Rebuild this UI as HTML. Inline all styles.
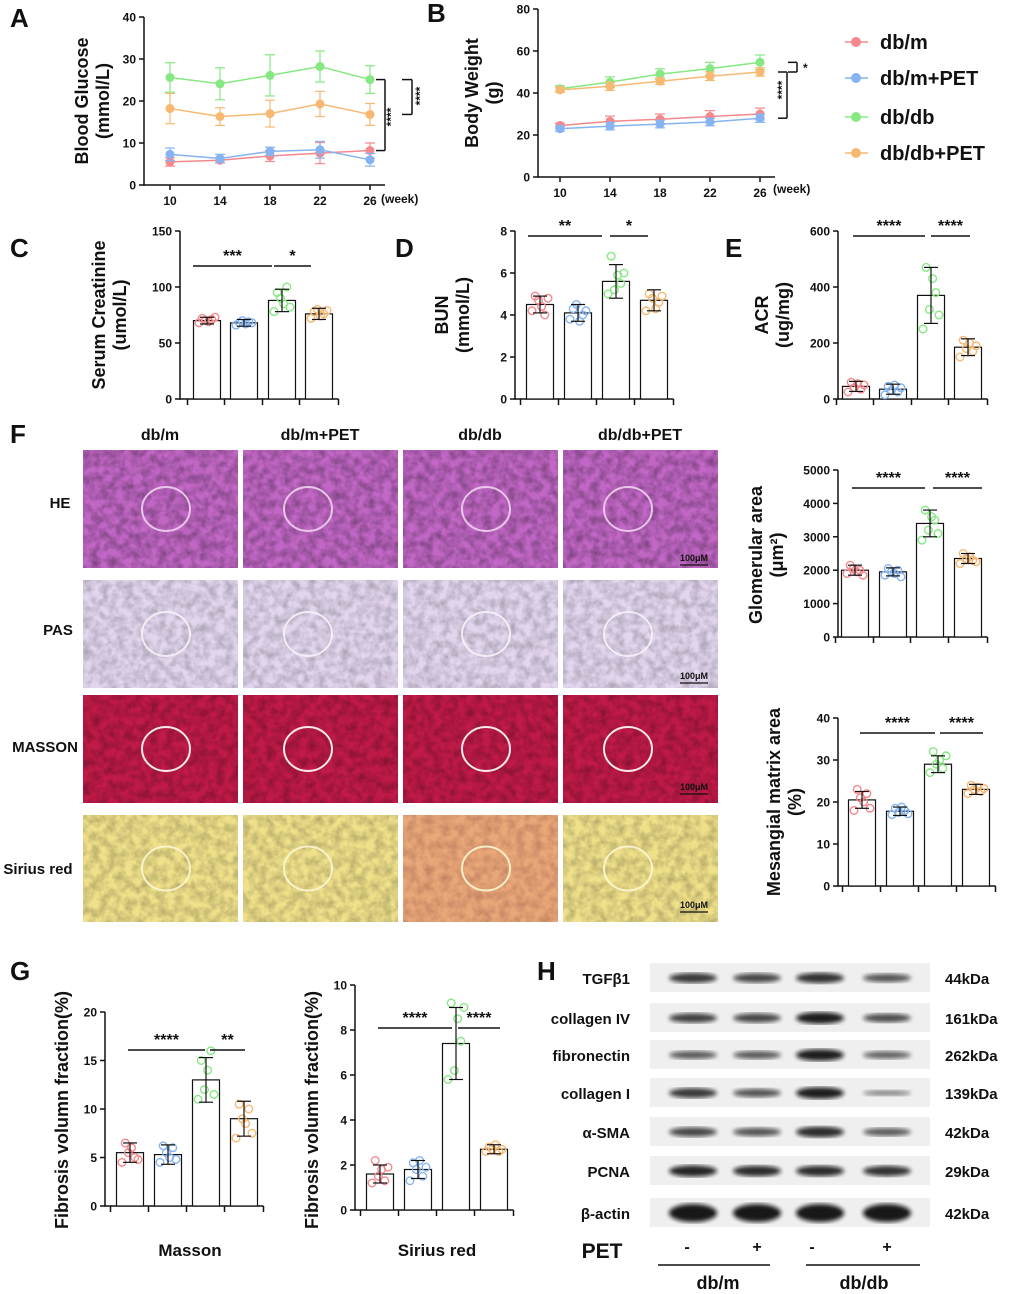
<!DOCTYPE html>
<html><head><meta charset="utf-8"><style>
body{margin:0;background:#fff}
svg{display:block;font-family:"Liberation Sans",Arial,sans-serif}
text{font-weight:bold;fill:#111}
</style></head><body>
<svg id="fig" width="1010" height="1294" viewBox="0 0 1010 1294">
<defs>
<filter id="tex" x="0" y="0" width="100%" height="100%"><feTurbulence type="fractalNoise" baseFrequency="0.12" numOctaves="3" seed="3"/><feColorMatrix type="matrix" values="0 0 0 0 0  0 0 0 0 0  0 0 0 0 0  0 0 0 -1.6 1.1"/><feComposite in2="SourceGraphic" operator="in"/></filter>
<filter id="blur"><feGaussianBlur stdDeviation="2.2"/></filter>
</defs>
<g id="root"></g>
</svg>
<script>
const NS='http://www.w3.org/2000/svg';
const root=document.getElementById('root');
const COLORS=['#f4888c','#86b4f2','#86e882','#f7b872'];
const GROUPS=['db/m','db/m+PET','db/db','db/db+PET'];
// Panel A data
const weeks=[10,14,18,22,26];
const glucoseMean=[[5.5,5.9,6.9,7.6,8.2],[7.3,6.3,8.0,8.4,6.0],[25.6,24.1,26.1,28.2,25.1],[18.2,16.3,17.0,19.3,16.8]];
const glucoseSd=[[1.0,0.6,1.3,2.5,1.8],[1.5,1.0,1.0,2.0,1.5],[3.5,3.8,4.9,3.7,3.3],[3.6,2.1,3.2,3.0,2.6]];
// Panel B data
const weightMean=[[24.5,26.5,27.5,28.8,30.0],[23.0,24.2,25.2,26.2,28.0],[42.0,45.2,49.0,51.6,54.6],[41.5,43.2,45.6,48.0,50.0]];
const weightSd=[[1.2,2.5,2.5,2.8,2.8],[1.2,1.8,1.8,1.8,2.0],[1.5,2.5,2.5,3.0,3.5],[1.2,2.0,1.5,2.0,2.0]];
// bar panels
const creatMean=[70,68,88,76],creatSd=[3,3,10,5];
const creatDots=[[68,72,70,69,71,73],[66,68,70,67,69,68],[78,95,90,85,100,82],[72,78,80,74,76,79]];
const bunMean=[4.5,4.1,5.6,4.7],bunSd=[0.4,0.4,0.8,0.5];
const bunDots=[[4.2,4.9,4.7,4.4,4.0,4.8],[3.8,4.3,4.5,3.7,4.0,4.2],[5.0,6.8,5.2,5.9,5.5,6.0],[4.2,5.0,4.8,4.3,4.6,4.9]];
const acrMean=[45,35,370,185],acrSd=[18,18,100,30];
const acrDots=[[25,60,40,55,35,50],[15,45,30,50,25,40],[250,470,320,430,380,300],[150,210,180,200,170,190]];
const gloMean=[2000,1950,3400,2350],gloSd=[150,120,400,150];
const gloDots=[[1900,2150,2050,1950,2000,1850],[1850,2050,1950,1900,2000,1800],[2900,3800,3200,3600,3500,3100],[2200,2500,2350,2400,2300,2250]];
const mesMean=[20.5,17.8,29,23],mesSd=[2,1,2,1.2];
const mesDots=[[18,23,21,20,22,18.5],[17,18.5,17.5,18.8,18,17.2],[27,32,29,30,28,31],[22,24,23,23.5,22.5,23.2]];
const massonMean=[5.5,5.3,13,9],massonSd=[1,1,2.3,1.8];
const massonDots=[[4.5,6.5,5.5,6,5,4.8],[4.5,6.2,5.5,5,6,4.8],[11,15,12,14,16,11.5],[7,10.5,9,8.5,10,7.5]];
const siriusMean=[1.6,1.8,7.4,2.7],siriusSd=[0.4,0.4,1.6,0.2];
const siriusDots=[[1.2,2.2,1.5,1.8,1.3,1.9],[1.3,2.1,1.8,2.2,1.5,1.9],[5.8,9.2,6.2,8.5,7.5,9.0],[2.6,2.8,2.7,2.9,2.6,2.7]];
// Western blot intensities (0..1) rows x lanes
const blotLabels=['TGFβ1','collagen IV','fibronectin','collagen I','α-SMA','PCNA','β-actin'];
const blotKda=['44kDa','161kDa','262kDa','139kDa','42kDa','29kDa','42kDa'];
const blotIntensity=[[0.75,0.65,0.8,0.55],[0.7,0.65,0.95,0.6],[0.5,0.5,0.95,0.45],[0.75,0.55,0.95,0.2],[0.65,0.55,0.85,0.5],[0.9,0.85,0.85,0.8],[1,1,1,1]];

function el(tag,attrs,parent,txt){const e=document.createElementNS(NS,tag);for(const k in attrs)e.setAttribute(k,attrs[k]);if(txt!==undefined)e.textContent=txt;(parent||root).appendChild(e);return e;}
function grp(name){const g=el('g',{});return g;}
function txt(g,x,y,s,size,anchor,name,rot){const t=el('text',{x:x,y:y,'font-size':size,'text-anchor':anchor||'middle'},g,s);if(rot)t.setAttribute('transform','rotate(-90 '+x+' '+y+')');

return t;}
function ln(g,x1,y1,x2,y2,c,w){return el('line',{x1:x1,y1:y1,x2:x2,y2:y2,stroke:c||'#111','stroke-width':w||1.5},g);}
function yAxis(g,x,y0,y1,ticks,vmax,fs){const sc=v=>y0-(v/vmax)*(y0-y1);ln(g,x,y0+0.75,x,y1);ticks.forEach(t=>{ln(g,x-5,sc(t),x,sc(t));txt(g,x-8,sc(t)+4.5,String(t),fs||12,'end','y-tick-label');});return sc;}
function ylabel(g,x,y,lines,name){lines.forEach((l,i)=>{txt(g,x+i*21,y,l,18,'middle',name,true);});}
function sig(g,x1,x2,y,s,name){ln(g,x1,y,x2,y);txt(g,(x1+x2)/2,y-5,s,16,'middle',name);}

function lineChart(name,axX,y0,y1,vmax,yt,xs,means,sds,weekLbl){
 const g=grp(name);const sc=yAxis(g,axX,y0,y1,yt,vmax);
 const xEnd=xs[xs.length-1]+15;ln(g,axX,y0,xEnd,y0);
 weeks.forEach((w,i)=>{ln(g,xs[i],y0,xs[i],y0+5);txt(g,xs[i],y0+20,String(w),12,'middle','x-tick-label');});
 txt(g,weekLbl[0],weekLbl[1],'(week)',12,'start','x-axis-unit');
 means.forEach((m,s)=>{const c=COLORS[s];
  const p=m.map((v,i)=>xs[i]+','+sc(v)).join(' ');
  const pl=el('polyline',{points:p,fill:'none',stroke:c,'stroke-width':1.5},g);
  
  
  m.forEach((v,i)=>{const sd=sds[s][i];ln(g,xs[i],sc(v-sd),xs[i],sc(v+sd),c,1.2);ln(g,xs[i]-5,sc(v+sd),xs[i]+5,sc(v+sd),c,1.2);ln(g,xs[i]-5,sc(v-sd),xs[i]+5,sc(v-sd),c,1.2);
   const d=el('circle',{cx:xs[i],cy:sc(v),r:4.5,fill:c},g);
   
   });
 });
 return {g,sc};
}
function barChart(name,axX,y0,y1,vmax,yt,cx,means,sds,dots,bw){
 const g=grp(name);const sc=yAxis(g,axX,y0,y1,yt,vmax);
 const right=cx[3]+bw/2+6;ln(g,axX,y0,right,y0);
 means.forEach((m,i)=>{const b=el('rect',{x:cx[i]-bw/2,y:sc(m),width:bw,height:y0-sc(m),fill:'#fff',stroke:'#111','stroke-width':1.2},g);
  
  
  ln(g,cx[i]-bw/2-6,y0,cx[i]-bw/2-6,y0+6);
  dots[i].forEach((v,j)=>{const d=el('circle',{cx:cx[i]+(j-2.5)*3.2,cy:sc(v),r:3.8,fill:'none',stroke:COLORS[i],'stroke-width':1.4},g);
   
   });
  const sd=sds[i];ln(g,cx[i],sc(m-sd),cx[i],sc(m+sd),'#111',1.2);ln(g,cx[i]-7,sc(m+sd),cx[i]+7,sc(m+sd),'#111',1.2);ln(g,cx[i]-7,sc(m-sd),cx[i]+7,sc(m-sd),'#111',1.2);
 });
 ln(g,right,y0,right,y0+6);
 return {g,sc};
}
function panelLabel(x,y,s){txt(root,x,y,s,26,'start','panel-label-'+s);}

panelLabel(10,27,'A');panelLabel(427,22,'B');panelLabel(10,257,'C');panelLabel(395,257,'D');panelLabel(725,257,'E');panelLabel(10,443,'F');panelLabel(10,980,'G');panelLabel(537,980,'H');

// A
let A=lineChart('blood-glucose-chart',144,185,17,40,[0,10,20,30,40],[170,220,270,320,370],glucoseMean,glucoseSd,[381,203]);
ylabel(A.g,88,101,['Blood Glucose','(mmol/L)'],'y-axis-title');
(function(){const g=A.g,sc=A.sc;const x=385;ln(g,376,sc(glucoseMean[2][4]),x,sc(glucoseMean[2][4]));ln(g,x,sc(glucoseMean[2][4]),x,sc(glucoseMean[0][4]));ln(g,376,sc(glucoseMean[0][4]),x,sc(glucoseMean[0][4]));
txt(g,395,117,'****',12,'middle','sig-label',true);
const x2=412;ln(g,402,sc(glucoseMean[2][4]),x2,sc(glucoseMean[2][4]));ln(g,x2,sc(glucoseMean[2][4]),x2,sc(glucoseMean[3][4]));ln(g,402,sc(glucoseMean[3][4]),x2,sc(glucoseMean[3][4]));
txt(g,424,96,'****',12,'middle','sig-label',true);})();

// B
let B=lineChart('body-weight-chart',538,177,9,80,[0,20,40,60,80],[560,610,660,710,760],weightMean,weightSd,[773,193]);
ylabel(B.g,478,93,['Body Weight','(g)'],'y-axis-title');
(function(){const g=B.g,sc=B.sc;const x=797;ln(g,788,sc(54.6),x,sc(54.6));ln(g,x,sc(54.6),x,sc(50));ln(g,788,sc(50),x,sc(50));txt(g,803,72,'*',12,'start','sig-label');
const x2=787;ln(g,778,sc(50),x2,sc(50));ln(g,x2,sc(50),x2,sc(28));ln(g,778,sc(28),x2,sc(28));txt(g,786,90,'****',12,'middle','sig-label',true);})();

// Legend
(function(){const g=grp('legend');[42,78,117,153].forEach((y,i)=>{const e=grp('legend-entry');g.appendChild(e);ln(e,845,y,868,y,COLORS[i],1.5);el('circle',{cx:856,cy:y,r:5,fill:COLORS[i]},e);txt(e,880,y+7,GROUPS[i],20,'start','legend-label');});})();

// C
let C=barChart('serum-creatinine-chart',180,399,231,150,[0,50,100,150],[207,244,282,319],creatMean,creatSd,creatDots,27);
ylabel(C.g,105,315,['Serum Creatinine','(umol/L)'],'y-axis-title');
sig(C.g,193,272,266,'***','sig-label');sig(C.g,274,311,266,'*','sig-label');
// D
let D=barChart('bun-chart',515,399,231,8,[0,2,4,6,8],[540,578,616,654],bunMean,bunSd,bunDots,27);
ylabel(D.g,448,315,['BUN','(mmol/L)'],'y-axis-title');
sig(D.g,528,602,236,'**','sig-label');sig(D.g,610,648,236,'*','sig-label');
// E
let E=barChart('acr-chart',838,399,231,600,[0,200,400,600],[856,893,931,968],acrMean,acrSd,acrDots,27);
ylabel(E.g,768,315,['ACR','(ug/mg)'],'y-axis-title');
sig(E.g,853,925,236,'****','sig-label');sig(E.g,931,970,236,'****','sig-label');

// F histology
(function(){const g=grp('histology-grid');
 const cols=[83,243,403,563],rows=[[450,118],[580,108],[695,108],[815,107]];
 const names=['db/m','db/m+PET','db/db','db/db+PET'];
 cols.forEach((x,i)=>txt(g,x+77,440,names[i],16,'middle','column-header'));
 const rl=[['HE',60,508],['PAS',58,635],['MASSON',45,752],['Sirius red',38,874]];
 rl.forEach(r=>txt(g,r[1],r[2],r[0],15,'middle','row-label'));
 const base=[['#c167c5','#5a2a8a','#f0d0f0'],['#e2d6ee','#8a70b8','#f6f2f8'],['#c01a48','#501030','#ffffff'],['#efe08a','#a07840','#fbf6d0']];
 const op=[0.35,0.25,0.3,0.25];
 rows.forEach((r,ri)=>cols.forEach((x,ci)=>{
  const t=grp('histology-image');g.appendChild(t);
  el('rect',{x:x,y:r[0],width:155,height:r[1],fill:base[ri][0]},t);
  el('rect',{x:x,y:r[0],width:155,height:r[1],fill:base[ri][1],filter:'url(#tex)',opacity:op[ri]},t);
  if(ri==3&&ci==2){el('rect',{x:x,y:r[0],width:155,height:r[1],fill:'#e04058',opacity:0.35},t);}
  el('ellipse',{cx:x+75+(ci%2?-10:8),cy:r[0]+r[1]/2,rx:24,ry:22,fill:'none',stroke:base[ri][2],'stroke-width':2,opacity:0.9},t);
 }));
 [[680,565],[680,683],[680,794],[680,912]].forEach(p=>{ln(g,p[0],p[1],p[0]+28,p[1],'#111',1.2);txt(g,p[0]+14,p[1]-4,'100μM',9,'middle','scale-bar-label');});
})();

// Glomerular & Mesangial
let F1=barChart('glomerular-area-chart',838,637,470,5000,[0,1000,2000,3000,4000,5000],[855,893,930,968],gloMean,gloSd,gloDots,27);
ylabel(F1.g,762,555,['Glomerular area','(μm²)'],'y-axis-title');
sig(F1.g,852,925,488,'****','sig-label');sig(F1.g,933,982,488,'****','sig-label');
let F2=barChart('mesangial-matrix-chart',838,886,718,40,[0,10,20,30,40],[862,900,938,976],mesMean,mesSd,mesDots,27);
ylabel(F2.g,780,802,['Mesangial matrix area','(%)'],'y-axis-title');
sig(F2.g,860,935,733,'****','sig-label');sig(F2.g,940,983,733,'****','sig-label');

// G
let G1=barChart('masson-fibrosis-chart',105,1206,1012,20,[0,5,10,15,20],[130,168,206,244],massonMean,massonSd,massonDots,27);
ylabel(G1.g,68,1110,['Fibrosis volumn fraction(%)'],'y-axis-title');
sig(G1.g,128,205,1050,'****','sig-label');sig(G1.g,210,245,1050,'**','sig-label');
txt(G1.g,190,1256,'Masson',17,'middle','x-axis-title');
let G2=barChart('sirius-fibrosis-chart',355,1210,985,10,[0,2,4,6,8,10],[380,418,456,494],siriusMean,siriusSd,siriusDots,27);
ylabel(G2.g,318,1110,['Fibrosis volumn fraction(%)'],'y-axis-title');
sig(G2.g,378,452,1028,'****','sig-label');sig(G2.g,458,500,1028,'****','sig-label');
txt(G2.g,437,1256,'Sirius red',17,'middle','x-axis-title');

// H western blot
(function(){const g=grp('western-blot');
 const rowY=[963,1003,1040,1078,1117,1156,1198],lanes=[693,757,820,887];
 blotLabels.forEach((lab,i)=>{
  const y=rowY[i];
  const s=el('rect',{x:650,y:y,width:280,height:29,fill:'#efefef'},g);
  
  
  lanes.forEach((lx,j)=>{const v=blotIntensity[i][j];const h=4+v*(i==6?14:8);
   const b=el('ellipse',{cx:lx,cy:y+15,rx:24,ry:h/2,fill:'#111',opacity:0.35+0.6*v,filter:'url(#blur)'},g);
   
   });
  txt(g,630,y+21,lab,15,'end','protein-label');
  txt(g,945,y+21,blotKda[i],15,'start','kda-label');
 });
 txt(g,602,1258,'PET',21,'middle','pet-label');
 ['-','+','-','+'].forEach((s,j)=>txt(g,lanes[j]-(j==0?6:j==2?8:0),1252,s,16,'middle','pet-sign'));
 ln(g,658,1265,770,1265);ln(g,806,1265,920,1265);
 txt(g,718,1289,'db/m',18,'middle','group-label');txt(g,864,1289,'db/db',18,'middle','group-label');
})();
</script>
</body></html>
